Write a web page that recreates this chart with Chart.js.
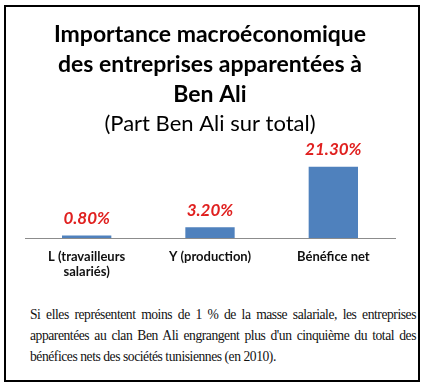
<!DOCTYPE html>
<html>
<head>
<meta charset="utf-8">
<script src="https://cdn.jsdelivr.net/npm/chart.js@4.4.0/dist/chart.umd.min.js"></script>
<style>
    body { margin: 0; background: #fff; }
    #frame { position: absolute; left: 4px; top: 5px; width: 412px; height: 373px; border: 2px solid #000; }
    #chartBox { position: absolute; left: 0; top: 0; width: 412px; height: 283px; }
    #note {
        position: absolute; left: 24px; top: 297px; width: 386px;
        font-family: "Liberation Serif", "DejaVu Serif", serif; font-size: 13.6px; line-height: 21px;
        letter-spacing: -0.45px; color: #111;
    }
    #note div { white-space: nowrap; text-align: justify; text-align-last: justify; }
    #note div:last-child { text-align-last: left; }
</style>
</head>
<body>
<div id="frame">
    <div id="chartBox"><canvas id="shareChart"></canvas></div>
    <div id="note">
        <div>Si elles représentent moins de 1 % de la masse salariale, les entreprises</div>
        <div>apparentées au clan Ben Ali engrangent plus d'un cinquième du total des</div>
        <div>bénéfices nets des sociétés tunisiennes (en 2010).</div>
    </div>
</div>
<script>
const categories = [['L (travailleurs', 'salariés)'], 'Y (production)', 'Bénéfice net'];
const shares = [0.8, 3.2, 21.3];
const titleLines = ['Importance macroéconomique', 'des entreprises apparentées à', 'Ben Ali'];
const subtitleText = '(Part Ben Ali sur total)';

// draws the red percentage above each bar
const valueLabels = {
    id: 'valueLabels',
    afterDatasetsDraw(chart) {
        const ctx = chart.ctx;
        const meta = chart.getDatasetMeta(0);
        ctx.save();
        ctx.font = 'italic bold 17px Lato, "Open Sans", sans-serif';
        ctx.fillStyle = '#e0201f';
        ctx.textAlign = 'center';
        ctx.textBaseline = 'middle';
        meta.data.forEach((bar, i) => {
            ctx.fillText(shares[i].toFixed(2) + '%', bar.x, bar.y - 17);
        });
        ctx.restore();
    }
};

new Chart(document.getElementById('shareChart'), {
    type: 'bar',
    data: {
        labels: categories,
        datasets: [{
            data: shares,
            backgroundColor: '#4f81bd',
            barPercentage: 0.4,
            categoryPercentage: 1
        }]
    },
    options: {
        responsive: true,
        maintainAspectRatio: false,
        animation: false,
        layout: { padding: { left: 19, right: 23, top: 0, bottom: 0 } },
        scales: {
            y: { display: false, min: 0, max: 25 },
            x: {
                grid: { display: false, drawTicks: false },
                border: { color: '#8c8c8c', width: 1 },
                ticks: {
                    color: '#111',
                    padding: 11,
                    font: { family: 'Lato, "Open Sans", sans-serif', size: 13, weight: 'bold', lineHeight: 1.15 }
                }
            }
        },
        plugins: {
            legend: { display: false },
            tooltip: { enabled: false },
            title: {
                display: true,
                text: titleLines,
                color: '#000',
                padding: { top: 13, bottom: 0 },
                font: { family: 'Lato, "Open Sans", sans-serif', size: 23, weight: 'bold', lineHeight: 1.3 }
            },
            subtitle: {
                display: true,
                text: subtitleText,
                color: '#000',
                padding: { top: 0, bottom: 16 },
                font: { family: 'Lato, "Open Sans", sans-serif', size: 22, weight: 'normal', lineHeight: 1.3 }
            }
        }
    },
    plugins: [valueLabels]
});
</script>
</body>
</html>
